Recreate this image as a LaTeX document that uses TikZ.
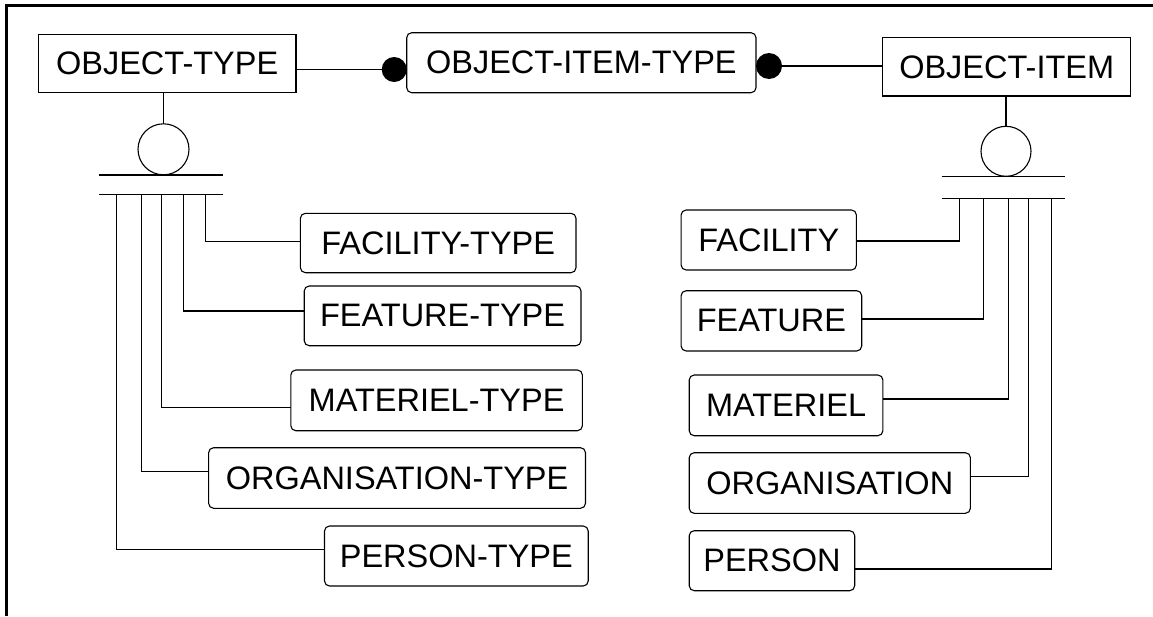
\documentclass[tikz,border=0pt]{standalone}
\usepackage{fontspec}
\setmainfont{Liberation Sans}
\begin{document}
\begin{tikzpicture}[x=1pt,y=-1pt,
  every node/.style={inner sep=0pt, outer sep=0pt},
  lbl/.style={font=\fontsize{32.5}{36}\selectfont, text=black},
  sqbox/.style={lbl, draw=black, line width=1.1pt},
  rbox/.style={lbl, draw=black, line width=1.1pt, rounded corners=5pt},
  conn/.style={draw=black, line width=1.1pt},
  dotnode/.style={circle, fill=black, minimum size=25pt},
  subcirc/.style={circle, draw=black, line width=1.1pt, minimum size=51pt}]
\useasboundingbox (0,0) rectangle (1153,616);
\fill[white] (0,0) rectangle (1153,616);
% frame (top and left)
\draw[line width=2.5pt, black] (6.7,616) -- (6.7,5.7) -- (1153,5.7);

% top row
\node[sqbox, minimum width=257.7pt, minimum height=58pt] (otype) at (167.15,63.3) {OBJECT-TYPE};
\node[rbox, minimum width=349.3pt, minimum height=60pt] (oitype) at (581.35,62.7) {OBJECT-ITEM-TYPE};
\node[sqbox, minimum width=248pt, minimum height=58.3pt] (oitem) at (1006.7,66.85) {OBJECT-ITEM};
\node[dotnode] (dL) at (394.2,69.5) {};
\node[dotnode, minimum size=26pt] (dR) at (769,66) {};
\draw[conn] (otype.east |- dL) -- (dL);
\draw[conn] (dR) -- (oitem.west |- dR);

% left subtype symbol
\node[subcirc] (cL) at (163.5,149.3) {};
\draw[conn] (cL.north) -- (cL.north |- otype.south);
\draw[conn] (99.3,175) -- (223.3,175);
\draw[conn] (99.3,194.3) -- (223.3,194.3);
\coordinate (bL1) at (116.7,194.3);
\coordinate (bL2) at (141.3,194.3);
\coordinate (bL3) at (161.2,194.3);
\coordinate (bL4) at (183.2,194.3);
\coordinate (bL5) at (205.6,194.3);

% right subtype symbol
\node[subcirc, minimum size=50pt] (cR) at (1006,151.3) {};
\draw[conn] (cR.north) -- (cR.north |- oitem.south);
\draw[conn] (941.7,176.7) -- (1065,176.7);
\draw[conn] (941.7,198.3) -- (1065,198.3);
\coordinate (bR1) at (959.4,198.3);
\coordinate (bR2) at (983.6,198.3);
\coordinate (bR3) at (1008.4,198.3);
\coordinate (bR4) at (1028.5,198.3);
\coordinate (bR5) at (1051.8,198.3);

% left subtypes
\node[rbox, minimum width=275.6pt, minimum height=59.4pt] (facT) at (438.2,243) {FACILITY-TYPE};
\node[rbox, minimum width=276.8pt, minimum height=59.7pt] (featT) at (442.6,315.85) {FEATURE-TYPE};
\node[rbox, minimum width=291.6pt, minimum height=60.7pt] (matT) at (436.6,400.35) {MATERIEL-TYPE};
\node[rbox, minimum width=376.9pt, minimum height=60.6pt] (orgT) at (397.05,478) {ORGANISATION-TYPE};
\node[rbox, minimum width=263.7pt, minimum height=60pt] (perT) at (456.35,556) {PERSON-TYPE};
\draw[conn] (bL5) |- ([yshift=1.3pt]facT.west);
\draw[conn] (bL4) |- ([yshift=4.85pt]featT.west);
\draw[conn] (bL3) |- ([yshift=-6.95pt]matT.west);
\draw[conn] (bL2) |- ([yshift=6.3pt]orgT.west);
\draw[conn] (bL1) |- ([yshift=6.7pt]perT.west);

% right subtypes
\node[rbox, minimum width=175.3pt, minimum height=60pt] (fac) at (768.75,240) {FACILITY};
\node[rbox, minimum width=180.6pt, minimum height=60.3pt] (feat) at (771.4,320.85) {FEATURE};
\node[rbox, minimum width=193.7pt, minimum height=60.7pt] (mat) at (786.05,405.35) {MATERIEL};
\node[rbox, minimum width=281.2pt, minimum height=60.6pt] (org) at (829.8,483) {ORGANISATION};
\node[rbox, minimum width=165.5pt, minimum height=60pt] (per) at (771.95,560.7) {PERSON};
\draw[conn] (bR1) |- ([yshift=-1pt]fac.east);
\draw[conn] (bR2) |- ([yshift=1.85pt]feat.east);
\draw[conn] (bR3) |- ([yshift=6.35pt]mat.east);
\draw[conn] (bR4) |- ([yshift=6.3pt]org.east);
\draw[conn] (bR5) |- ([yshift=-8.3pt]per.east);
\end{tikzpicture}
\end{document}
